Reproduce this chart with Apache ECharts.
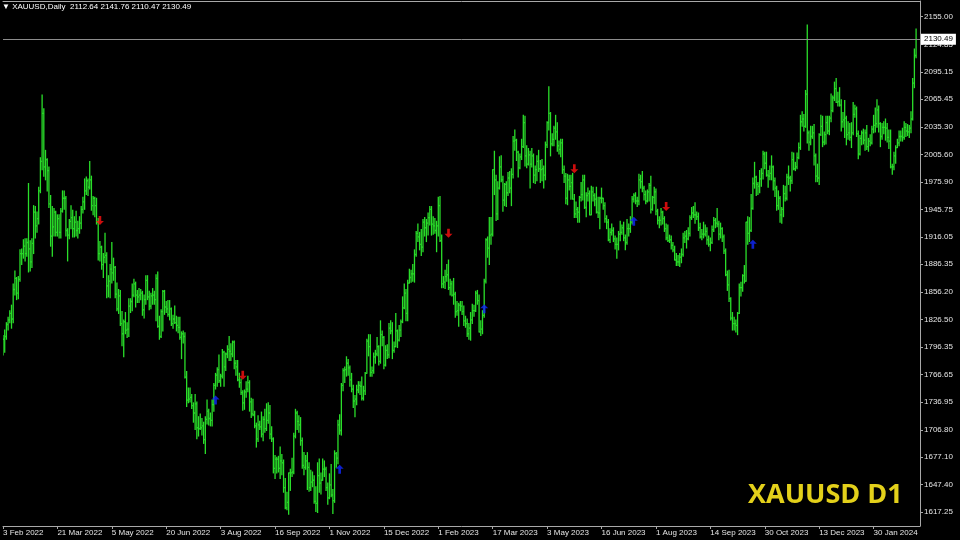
<!DOCTYPE html>
<html><head><meta charset="utf-8">
<script src="https://cdn.jsdelivr.net/npm/echarts@6/dist/echarts.min.js"></script>
<style>html,body{margin:0;padding:0;background:#000;}#c{width:960px;height:540px;}</style>
</head><body><div id="c"></div>
<script>
const symbolName = 'XAUUSD';
const timeframeName = 'Daily';
const cornerLabel = 'XAUUSD D1';

// daily bars [open, high, low, close]
const bars2022 = [
[1807,1809,1788,1805],[1805,1815,1791,1808],[1808,1823,1805,1821],[1821,1829,1815,1826],[1826,1836,1823,1833],[1833,1842,1817,1827],[1827,1865,1823,1859],
[1859,1879,1853,1871],[1871,1872,1848,1855],[1855,1873,1849,1870],[1870,1902,1868,1898],[1898,1903,1886,1898],
[1898,1913,1893,1906],[1906,1914,1890,1898],[1898,1914,1895,1910],[1910,1974,1878,1903],[1903,1912,1879,1889],
[1889,1914,1883,1909],[1909,1950,1898,1943],[1943,1949,1915,1928],[1928,1943,1921,1936],[1936,1970,1930,1966],
[1966,2002,1964,1998],[1998,2070,1989,2050],[2050,2055,1982,1992],[1992,2010,1978,2000],[2000,2001,1966,1988],
[1988,1992,1948,1952],[1952,1961,1906,1917],[1917,1949,1895,1927],[1927,1947,1917,1943],[1943,1944,1917,1921],
[1921,1940,1917,1936],[1936,1940,1915,1921],[1921,1947,1915,1944],[1944,1966,1943,1958],[1958,1966,1946,1958],
[1958,1960,1917,1923],[1923,1925,1890,1918],[1918,1935,1914,1933],[1933,1950,1925,1937],[1937,1945,1916,1925],
[1925,1938,1916,1932],[1932,1944,1917,1923],[1923,1933,1915,1925],[1925,1938,1920,1931],[1931,1949,1925,1946],
[1946,1959,1942,1954],[1954,1979,1946,1966],[1966,1981,1962,1977],[1977,1979,1961,1970],
[1970,1998,1968,1978],[1978,1982,1945,1950],[1950,1960,1940,1958],[1958,1959,1938,1950],[1950,1958,1930,1932],
[1932,1936,1891,1898],[1898,1911,1890,1905],[1905,1906,1881,1886],[1886,1898,1872,1894],[1894,1920,1888,1896],
[1896,1899,1850,1863],[1863,1874,1851,1868],[1868,1886,1850,1881],[1881,1910,1866,1877],[1877,1893,1869,1883],
[1883,1884,1850,1854],[1854,1866,1836,1838],[1838,1859,1833,1852],[1852,1858,1820,1822],[1822,1835,1798,1811],
[1811,1826,1786,1824],[1824,1834,1811,1815],[1815,1823,1807,1816],[1816,1849,1808,1841],[1841,1849,1834,1846],
[1846,1865,1836,1853],[1853,1870,1851,1865],[1865,1867,1840,1853],[1853,1858,1845,1851],[1851,1860,1845,1853],
[1853,1859,1848,1855],[1855,1857,1831,1837],
[1837,1853,1828,1848],[1848,1874,1843,1869],[1869,1874,1848,1851],
[1851,1857,1837,1841],[1841,1855,1838,1852],[1852,1860,1843,1853],[1853,1857,1843,1848],[1848,1875,1825,1871],
[1871,1878,1818,1819],[1819,1830,1805,1808],[1808,1837,1807,1835],[1835,1858,1814,1857],[1857,1858,1832,1840],
[1840,1846,1834,1838],[1838,1847,1830,1832],[1832,1847,1826,1838],[1838,1839,1820,1822],[1822,1831,1817,1827],
[1827,1841,1822,1823],[1823,1830,1814,1820],[1820,1829,1812,1818],[1818,1829,1805,1807],
[1807,1813,1784,1811],
[1811,1814,1801,1808],[1808,1812,1763,1764],[1764,1770,1732,1739],[1739,1752,1736,1740],[1740,1752,1737,1742],
[1742,1745,1730,1733],[1733,1736,1715,1725],[1725,1745,1707,1735],[1735,1737,1697,1709],[1709,1721,1700,1708],
[1708,1724,1707,1709],[1709,1719,1701,1711],[1711,1715,1692,1696],[1696,1721,1681,1718],[1718,1739,1713,1727],
[1727,1729,1712,1719],[1719,1725,1711,1717],[1717,1739,1711,1734],[1734,1757,1727,1755],[1755,1768,1751,1766],
[1766,1774,1754,1772],[1772,1788,1758,1760],[1760,1767,1754,1765],[1765,1794,1763,1791],[1791,1792,1754,1775],
[1775,1790,1771,1789],[1789,1798,1785,1794],[1794,1808,1782,1792],[1792,1800,1782,1789],[1789,1803,1786,1802],
[1802,1803,1773,1779],[1779,1782,1766,1775],[1775,1782,1760,1761],[1761,1768,1753,1758],[1758,1762,1745,1747],
[1747,1749,1728,1736],[1736,1750,1729,1748],[1748,1759,1742,1751],[1751,1765,1748,1758],[1758,1760,1727,1737],
[1737,1741,1720,1724],[1724,1740,1722,1723],[1723,1727,1709,1711],
[1711,1714,1688,1697],[1697,1722,1694,1712],
[1712,1716,1707,1710],[1710,1726,1699,1702],[1702,1721,1695,1718],[1718,1729,1704,1708],[1708,1735,1706,1717],
[1717,1736,1714,1725],[1725,1733,1697,1702],[1702,1710,1694,1697],[1697,1698,1660,1665],[1665,1679,1654,1675],
[1675,1677,1660,1675],[1675,1678,1661,1665],[1665,1688,1654,1673],[1673,1680,1658,1671],[1671,1674,1639,1644],
[1644,1654,1621,1622],[1622,1639,1620,1628],[1628,1660,1615,1660],[1660,1664,1641,1660],[1660,1676,1656,1661],
[1661,1703,1659,1700],[1700,1729,1698,1725],[1725,1727,1707,1716],[1716,1722,1704,1712],[1712,1720,1690,1695],
[1695,1698,1665,1668],[1668,1682,1658,1666],[1666,1679,1664,1673],[1673,1682,1642,1666],[1666,1671,1640,1644],
[1644,1663,1641,1650],[1650,1661,1645,1652],[1652,1657,1627,1629],[1629,1645,1618,1627],[1627,1671,1617,1657],
[1657,1675,1639,1649],[1649,1660,1637,1652],[1652,1675,1652,1664],[1664,1673,1656,1664],[1664,1666,1641,1644],
[1644,1649,1626,1633],
[1633,1659,1632,1647],[1647,1669,1634,1636],[1636,1642,1616,1630],[1630,1684,1628,1681],
[1681,1682,1666,1676],[1676,1717,1670,1712],[1712,1723,1702,1706],[1706,1757,1701,1755],[1755,1773,1749,1771],
[1771,1775,1758,1772],[1772,1786,1765,1779],[1779,1783,1766,1774],[1774,1776,1754,1761],[1761,1768,1748,1751],
[1751,1755,1731,1738],[1738,1744,1721,1740],[1740,1755,1734,1750],[1750,1759,1747,1755],[1755,1759,1745,1754],
[1754,1764,1739,1741],[1741,1754,1739,1749],[1749,1769,1745,1768],
[1768,1805,1768,1803],[1803,1810,1787,1797],
[1797,1810,1765,1769],[1769,1775,1765,1771],[1771,1790,1768,1786],[1786,1793,1779,1789],[1789,1807,1787,1797],
[1797,1798,1777,1781],[1781,1825,1779,1810],[1810,1814,1798,1807],[1807,1808,1773,1777],[1777,1798,1776,1793],
[1793,1799,1784,1788],[1788,1822,1785,1817],[1817,1825,1811,1814],[1814,1823,1784,1793],[1793,1802,1791,1797],
[1797,1833,1797,1814],[1814,1815,1796,1804],[1804,1820,1803,1815],[1815,1826,1808,1824]
];
const bars2023 = [
[1824,1851,1823,1839],[1839,1865,1838,1855],[1855,1859,1825,1833],[1833,1869,1825,1866],
[1866,1881,1866,1872],[1872,1880,1867,1876],[1876,1886,1868,1876],[1876,1902,1867,1897],[1897,1922,1895,1920],
[1920,1930,1911,1916],[1916,1921,1902,1908],[1908,1924,1896,1905],[1905,1935,1900,1932],[1932,1937,1917,1926],
[1926,1935,1911,1931],[1931,1942,1918,1937],[1937,1949,1929,1946],[1946,1949,1918,1930],[1930,1938,1919,1928],
[1928,1936,1920,1923],[1923,1933,1900,1928],
[1928,1959,1917,1950],[1950,1960,1911,1912],[1912,1918,1861,1865],
[1865,1873,1861,1867],[1867,1880,1860,1873],[1873,1886,1868,1875],[1875,1891,1859,1861],[1861,1870,1853,1865],
[1865,1868,1852,1853],[1853,1871,1843,1854],[1854,1856,1829,1835],[1835,1846,1831,1836],[1836,1844,1819,1842],
[1842,1846,1836,1841],[1841,1846,1832,1835],[1835,1841,1820,1825],[1825,1830,1818,1822],[1822,1827,1808,1811],
[1811,1822,1805,1817],[1817,1834,1804,1826],
[1826,1843,1822,1836],[1836,1842,1830,1836],[1836,1857,1835,1855],
[1855,1858,1843,1847],[1847,1853,1813,1813],[1813,1825,1809,1816],[1816,1836,1811,1831],[1831,1870,1829,1868],
[1868,1914,1866,1913],[1913,1916,1894,1904],[1904,1937,1886,1918],[1918,1937,1908,1919],[1919,1989,1917,1989],
[1989,2009,1962,1978],[1978,1983,1934,1941],[1941,1976,1935,1969],[1969,2003,1968,1992],[1992,2004,1976,1978],
[1978,1982,1944,1956],[1956,1974,1950,1973],[1973,1976,1949,1964],[1964,1986,1961,1980],[1980,1987,1964,1969],
[1969,1990,1950,1984],[1984,2025,1980,2020],[2020,2032,2010,2021],[2021,2022,1999,2008],
[2008,2009,1981,1991],[1991,2006,1990,2003],[2003,2022,2000,2014],[2014,2048,2013,2040],[2040,2047,1993,2004],
[2004,2015,1991,1995],[1995,2012,1994,2005],[2005,2009,1969,1995],[1995,2012,1992,2004],[2004,2006,1975,1983],
[1983,1993,1974,1989],[1989,2004,1977,1998],[1998,2010,1987,1990],[1990,1999,1975,1989],[1989,2000,1977,1990],
[1990,1993,1969,1983],[1983,2019,1978,2016],[2016,2041,2013,2040],[2040,2079,2032,2050],[2050,2051,2004,2017],
[2017,2028,2015,2022],[2022,2036,2015,2034],[2034,2048,2022,2030],[2030,2040,2009,2015],[2015,2020,2006,2011],
[2011,2022,2003,2018],[2018,2022,1985,1989],[1989,1993,1975,1982],[1982,1985,1952,1958],[1958,1984,1951,1978],
[1978,1983,1967,1971],[1971,1983,1957,1975],[1975,1985,1957,1957],[1957,1962,1937,1941],[1941,1954,1937,1946],
[1946,1948,1932,1943],[1943,1960,1932,1959],[1959,1975,1955,1962],
[1962,1983,1956,1978],[1978,1983,1947,1948],
[1948,1964,1938,1961],[1961,1969,1955,1963],[1963,1966,1940,1940],[1940,1971,1940,1965],[1965,1970,1955,1961],
[1961,1963,1950,1957],[1957,1970,1942,1943],[1943,1959,1937,1942],[1942,1959,1925,1958],[1958,1969,1953,1958],
[1958,1958,1946,1950],[1950,1953,1932,1936],[1936,1939,1925,1932],[1932,1935,1912,1913],[1913,1925,1910,1921],
[1921,1930,1918,1923],[1923,1926,1911,1914],[1914,1917,1903,1908],[1908,1915,1893,1908],[1908,1922,1902,1919],
[1919,1933,1912,1921],[1921,1929,1919,1926],[1926,1932,1912,1915],[1915,1918,1902,1910],[1910,1935,1908,1925],
[1925,1930,1917,1925],[1925,1938,1921,1932],[1932,1960,1930,1957],[1957,1963,1954,1961],[1961,1964,1952,1955],
[1955,1959,1949,1955],[1955,1984,1951,1978],[1978,1983,1969,1976],[1976,1987,1965,1969],[1969,1971,1956,1962],
[1962,1966,1952,1955],[1955,1967,1954,1965],[1965,1974,1955,1972],[1972,1982,1942,1946],[1946,1960,1945,1959],
[1959,1970,1952,1965],
[1965,1968,1940,1944],[1944,1946,1930,1934],[1934,1938,1926,1934],[1934,1947,1929,1943],
[1943,1944,1930,1936],[1936,1938,1922,1925],[1925,1930,1913,1915],[1915,1929,1911,1912],[1912,1918,1910,1913],
[1913,1917,1903,1907],[1907,1910,1900,1902],[1902,1906,1891,1891],[1891,1898,1885,1889],[1889,1896,1885,1889],
[1889,1898,1884,1894],[1894,1903,1888,1897],[1897,1920,1895,1915],[1915,1922,1910,1917],[1917,1923,1904,1914],
[1914,1926,1913,1920],[1920,1939,1917,1937],[1937,1948,1935,1942],[1942,1949,1937,1940],
[1940,1953,1931,1940],
[1940,1943,1935,1938],[1938,1942,1923,1926],[1926,1931,1915,1916],[1916,1924,1913,1919],[1919,1932,1915,1919],
[1919,1929,1917,1922],[1922,1926,1908,1913],[1913,1917,1906,1908],[1908,1915,1901,1910],[1910,1928,1909,1924],
[1924,1937,1922,1934],[1934,1936,1926,1931],[1931,1947,1927,1930],[1930,1933,1913,1919],[1919,1931,1915,1925],
[1925,1926,1911,1916],[1916,1918,1898,1901],[1901,1903,1874,1875],[1875,1879,1858,1864],[1864,1880,1846,1849],
[1849,1850,1826,1828],[1828,1834,1815,1822],[1822,1829,1815,1822],[1822,1826,1813,1820],[1820,1834,1810,1833],
[1833,1865,1833,1861],[1861,1867,1852,1861],[1861,1875,1857,1874],[1874,1885,1866,1868],[1868,1932,1868,1932],
[1932,1938,1908,1920],[1920,1937,1911,1923],[1923,1962,1922,1947],[1947,1980,1946,1974],[1974,1997,1969,1981],
[1981,1982,1961,1973],[1973,1975,1962,1971],[1971,1988,1964,1979],[1979,1990,1971,1985],[1985,2009,1979,2006],
[2006,2008,1990,1996],[1996,2008,1982,1983],
[1983,1988,1970,1982],[1982,1993,1978,1985],[1985,2004,1978,1992],
[1992,1993,1967,1977],[1977,1980,1960,1969],[1969,1971,1945,1950],[1950,1966,1946,1958],[1958,1960,1932,1940],
[1940,1948,1931,1946],[1946,1972,1938,1963],[1963,1971,1955,1958],[1958,1984,1956,1981],[1981,1993,1973,1980],
[1980,1982,1966,1977],[1977,2008,1974,2000],[2000,2007,1989,1990],[1990,1997,1988,1992],[1992,2007,1990,2002],
[2002,2018,2001,2013],[2013,2048,2011,2041],[2041,2052,2036,2044],[2044,2049,2031,2036],
[2036,2075,2035,2071],
[2071,2146,2018,2029],[2029,2031,2010,2019],[2019,2036,2016,2025],[2025,2036,2023,2029],[2029,2038,1994,2004],
[2004,2006,1976,1982],[1982,1995,1976,1980],[1980,2028,1973,2027],[2027,2048,2026,2036],[2036,2047,2014,2019],
[2019,2030,2016,2027],[2027,2047,2017,2040],[2040,2047,2028,2031],[2031,2047,2027,2045],[2045,2071,2041,2053],
[2053,2069,2052,2067],[2067,2084,2064,2077],[2077,2088,2062,2062],[2062,2073,2058,2063]
];
const bars2024 = [
[2063,2078,2058,2059],[2059,2065,2031,2041],[2041,2051,2035,2043],[2043,2064,2024,2045],
[2045,2047,2016,2027],[2027,2041,2022,2029],[2029,2039,2021,2024],[2024,2040,2013,2029],[2029,2062,2027,2049],
[2049,2059,2046,2055],[2055,2057,2025,2028],[2028,2031,2001,2006],[2006,2026,2005,2023],[2023,2031,2016,2029],
[2029,2033,2017,2021],[2021,2032,2010,2029],[2029,2037,2011,2014],[2014,2023,2009,2020],[2020,2027,2015,2018],
[2018,2036,2017,2033],[2033,2048,2029,2037],[2037,2056,2030,2039],
[2039,2065,2035,2054],[2054,2058,2030,2039],
[2039,2040,2014,2025],[2025,2039,2022,2035],[2035,2041,2028,2035],[2035,2044,2021,2034],[2034,2039,2019,2024],
[2024,2032,2012,2020],[2020,2032,1991,1992],[1992,1995,1984,1992],[1992,2008,1989,2004],[2004,2015,1996,2013],
[2013,2022,2013,2018],[2018,2031,2015,2025],[2025,2031,2020,2025],[2025,2034,2020,2024],[2024,2041,2022,2035],
[2035,2039,2025,2031],[2031,2038,2026,2030],[2030,2037,2024,2034],[2034,2052,2029,2044],
[2044,2088,2043,2083],[2083,2120,2078,2114],[2112.64,2141.76,2110.47,2130.49]
];

// x-axis date labels, one every 32 bars starting at bar 0
const dateLabels = ['3 Feb 2022','21 Mar 2022','5 May 2022','20 Jun 2022','3 Aug 2022','16 Sep 2022','1 Nov 2022','15 Dec 2022',
  '1 Feb 2023','17 Mar 2023','3 May 2023','16 Jun 2023','1 Aug 2023','14 Sep 2023','30 Oct 2023','13 Dec 2023','30 Jan 2024'];
const barsPerLabel = 32;

// right price scale labels
const priceTicks = [2155.00,2124.85,2095.15,2065.45,2035.30,2005.60,1975.90,1945.75,1916.05,1886.35,1856.20,1826.50,1796.35,1766.65,1736.95,1706.80,1677.10,1647.40,1617.25];

// signal arrows [bar index, price]
const sellSignals = [[57,1934],[141,1766],[262,1920],[336,1990],[390,1949]];
const buySignals  = [[125,1739],[198,1664],[283,1838],[371,1933],[441,1908]];

const allBars = bars2022.concat(bars2023, bars2024);
const ohlcData = allBars.map((b, i) => [i, b[0], b[1], b[2], b[3]]);
const lastBar = allBars[allBars.length - 1];
const currentPrice = lastBar[3];
const headerText = '\u25BC ' + symbolName + ',' + timeframeName + '  ' + lastBar.map(v => v.toFixed(2)).join(' ');

const BAR_COLOR = '#2ade2a';
const AXIS_COLOR = '#a8a8a8';
const TEXT_COLOR = '#e4e4e4';
const FONT = 'Liberation Sans';

const chart = echarts.init(document.getElementById('c'), null, {renderer: 'canvas'});
chart.setOption({
  backgroundColor: '#000000',
  animation: false,
  title: [
    {text: headerText, left: 2, top: 3, padding: 0,
     textStyle: {color: '#ffffff', fontSize: 8, fontWeight: 'normal', fontFamily: FONT}},
    {text: cornerLabel, left: 748, top: 482, padding: 0,
     textStyle: {color: '#e3d01a', fontSize: 27, fontWeight: 'bold', fontFamily: 'Open Sans'}}
  ],
  grid: {left: 0, right: 40, top: 1, bottom: 14, containLabel: false},
  xAxis: [{
    type: 'value', min: 0, max: 539.3,
    splitLine: {show: false},
    axisLine: {show: true, onZero: false, lineStyle: {color: AXIS_COLOR, width: 1}},
    axisTick: {show: true, length: 3, customValues: dateLabels.map((_, k) => k * barsPerLabel), lineStyle: {color: AXIS_COLOR}},
    axisLabel: {show: true, customValues: dateLabels.map((_, k) => k * barsPerLabel),
      formatter: v => dateLabels[Math.round(v / barsPerLabel)] || '',
      align: 'left', margin: 3, color: TEXT_COLOR, fontSize: 8, fontFamily: FONT}
  }, {
    type: 'value', position: 'top', min: 0, max: 539.3,
    splitLine: {show: false}, axisTick: {show: false}, axisLabel: {show: false},
    axisLine: {show: true, onZero: false, lineStyle: {color: AXIS_COLOR, width: 1}}
  }],
  yAxis: {
    type: 'value', position: 'right', min: 1602.38, max: 2172.04, scale: true,
    splitLine: {show: false},
    axisLine: {show: true, onZero: false, lineStyle: {color: AXIS_COLOR, width: 1}},
    axisTick: {show: true, length: 3, customValues: priceTicks, lineStyle: {color: AXIS_COLOR}},
    axisLabel: {show: true, customValues: priceTicks, formatter: v => v.toFixed(2),
      margin: 4, color: TEXT_COLOR, fontSize: 8, fontFamily: FONT}
  },
  series: [{
    type: 'custom',
    clip: true,
    encode: {x: 0, y: [1, 2, 3, 4]},
    data: ohlcData,
    renderItem: function (params, api) {
      const i = api.value(0);
      const pH = api.coord([i, api.value(2)]);
      const pL = api.coord([i, api.value(3)]);
      const pO = api.coord([i, api.value(1)]);
      const pC = api.coord([i, api.value(4)]);
      const w = 0.9;
      const st = {stroke: BAR_COLOR, lineWidth: 1.3};
      return {type: 'group', children: [
        {type: 'line', shape: {x1: pH[0], y1: pH[1] - 0.5, x2: pL[0], y2: pL[1] + 0.5}, style: st},
        {type: 'line', shape: {x1: pO[0] - w, y1: pO[1], x2: pO[0], y2: pO[1]}, style: st},
        {type: 'line', shape: {x1: pC[0], y1: pC[1], x2: pC[0] + w, y2: pC[1]}, style: st}
      ]};
    },
    markLine: {
      silent: true, symbol: ['none', 'none'],
      lineStyle: {color: '#8c8c8c', type: 'solid', width: 1},
      label: {show: true, position: 'end', distance: 1, formatter: () => currentPrice.toFixed(2),
        backgroundColor: '#ffffff', color: '#000000', fontSize: 8, fontFamily: FONT, padding: [2, 3, 1, 3]},
      data: [{yAxis: currentPrice}]
    },
    z: 2
  }, {
    type: 'scatter', data: sellSignals, z: 5, silent: true,
    symbol: 'path://M3,0H6V5H9L4.5,9L0,5H3Z', symbolSize: [8, 9],
    itemStyle: {color: '#ff1010'}
  }, {
    type: 'scatter', data: buySignals, z: 5, silent: true,
    symbol: 'path://M4.5,0L9,4H6V9H3V4H0Z', symbolSize: [8, 9],
    itemStyle: {color: '#1028ff'}
  }]
});
</script>
</body></html>
